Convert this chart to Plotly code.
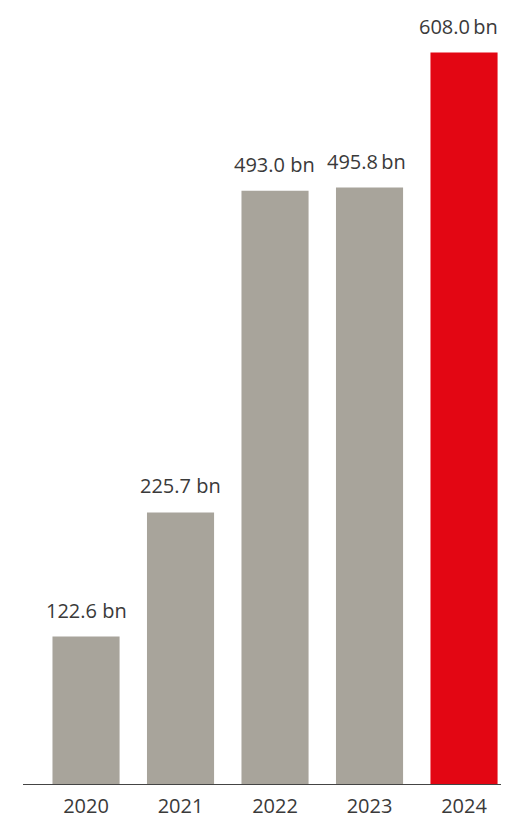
import plotly.graph_objects as go

years = ["2020", "2021", "2022", "2023", "2024"]
values = [122.6, 225.7, 493.0, 495.8, 608.0]
labels = ["122.6 bn", "225.7 bn", "493.0 bn", "495.8\u2009bn", "608.0\u2009bn"]
colors = ["#A8A49B", "#A8A49B", "#A8A49B", "#A8A49B", "#E30613"]

fig = go.Figure(go.Bar(x=years, y=values, marker=dict(color=colors, line=dict(width=0)),
                       width=0.71, hoverinfo="skip"))

shifts = [0, 0, -1, -3, -6]
for i, (v, lab) in enumerate(zip(values, labels)):
    fig.add_annotation(x=i, y=v, text=lab, showarrow=False, yanchor="bottom", yshift=11,
                       xshift=shifts[i],
                       font=dict(size=20, color="#3a3a3a", family="Open Sans"))

# page body has an 8px margin, so the figure is 8px smaller and offsets are reduced
fig.update_layout(
    width=501, height=816,
    margin=dict(l=15, r=0, t=0, b=40),
    plot_bgcolor="white", paper_bgcolor="white",
    showlegend=False,
    font=dict(family="Open Sans", size=20, color="#3a3a3a"),
    xaxis=dict(type="category", range=[-0.667, 4.476], showgrid=False, showline=True,
               linecolor="#444444", linewidth=1, ticks="", zeroline=False,
               ticklabelstandoff=4,
               tickfont=dict(size=20, color="#3a3a3a")),
    yaxis=dict(range=[0, 645], visible=False, showgrid=False, zeroline=False),
)

fig.write_html("out.html")
